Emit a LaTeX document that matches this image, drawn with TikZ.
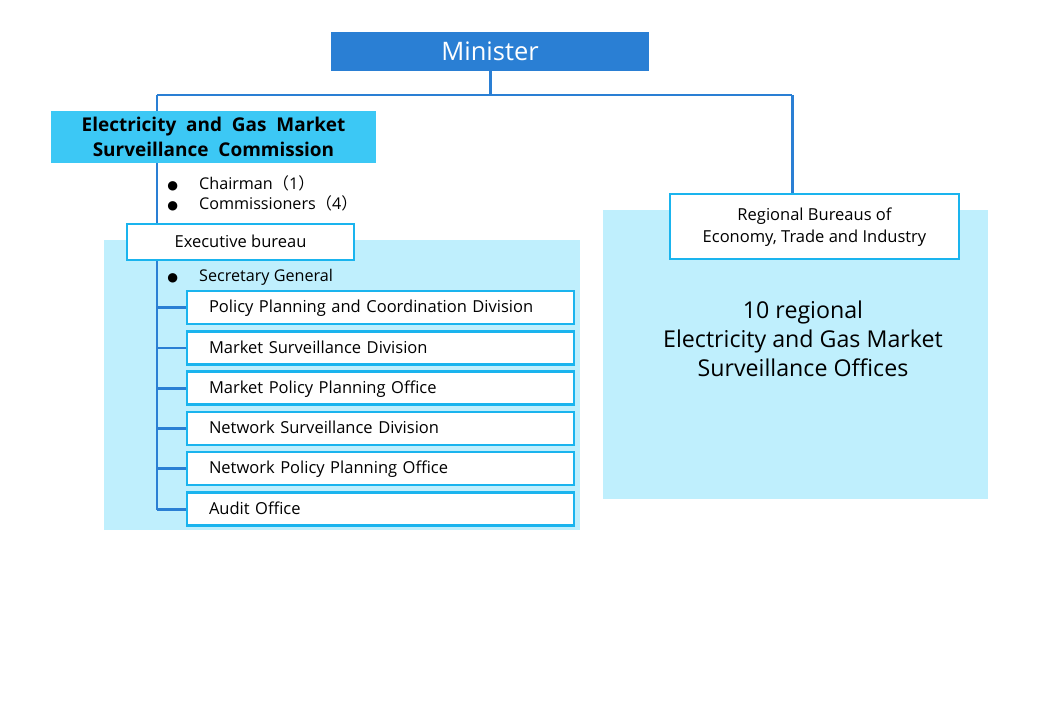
\documentclass[tikz,border=0pt]{standalone}
\usepackage{fontspec}
\setmainfont{Open Sans}
\newfontfamily\cjk{Noto Sans CJK JP}
\newfontfamily\symfont{DejaVu Sans}
\definecolor{lineblue}{HTML}{2A7FD4}
\definecolor{boxcyan}{HTML}{1AB4EE}
\definecolor{headcyan}{HTML}{3CC8F5}
\definecolor{paleblue}{HTML}{BFEFFD}
\newcommand{\bul}{{\symfont\fontsize{7}{8}\selectfont ●}\hspace{12pt}}
\tikzset{
  orgline/.style={draw=lineblue, line width=1.7pt},
  unitbox/.style={draw=boxcyan, line width=1.2pt, fill=white, minimum height=18pt,
    inner sep=0pt, text depth=0.25ex, font=\fontsize{9.4}{11}\selectfont},
  bulletitem/.style={anchor=west, inner sep=0pt, font=\fontsize{9.2}{11}\selectfont},
}
\begin{document}
\begin{tikzpicture}[x=0.02cm, y=-0.02cm]
		\useasboundingbox (0, 0) rectangle (1040, 720);
		%%%%%%%%%%%%%
		\fill [paleblue] (104, 240) rectangle (580, 530);
		\fill [paleblue] (603, 210) rectangle (988, 499);
		%%%%%%%%%%%%%
		\coordinate (top) at (490, 95);
		\coordinate (tl) at (157, 95); \coordinate (tr) at (792, 95);
		\coordinate (spine) at (157, 510);
		\draw [orgline] (490, 71) -- (top);
		\draw [orgline] (tl) -- (tr);
		\draw [orgline] (tl) -- (157, 111);
		\draw [orgline] (tr) -- (792, 194);
		\draw [orgline] (157, 163) -- (spine);
		%%%%%%%%%%%%%
		\node (min) [fill=lineblue, text=white, minimum width=318*0.02cm, minimum height=39*0.02cm,
		  inner sep=0pt, font=\fontsize{14.5}{16}\selectfont] at (490, 51.5) {Minister};
		\node (comm) [fill=headcyan, minimum width=325*0.02cm, minimum height=52*0.02cm, inner sep=0pt,
		  align=center, font=\bfseries\fontsize{10.8}{14}\selectfont] at (213.5, 137)
		  {Electricity\ \ and\ \ Gas\ \ Market\\Surveillance\ \ Commission};
		\node (chair) [bulletitem] at (167, 183) {\bul Chairman{\cjk（}1{\cjk）}};
		\node (coms) [bulletitem] at (167, 203) {\bul Commissioners{\cjk（}4{\cjk）}};
		\node (exec) [unitbox, minimum width=227*0.02cm, minimum height=36*0.02cm] at (240.5, 242) {Executive bureau};
		\node (sec) [bulletitem] at (167, 277) {\bul Secretary General};
		%%%%%%%%%%%%%
		\foreach \name/\y/\txt in {d1/307.5/Policy Planning and Coordination Division,
		    d2/348/Market Surveillance Division, d3/388/Market Policy Planning Office,
		    d4/428.5/Network Surveillance Division, d5/468.5/Network Policy Planning Office,
		    d6/509/Audit Office} {
		  \node (\name) [unitbox, minimum width=387*0.02cm, minimum height=33*0.02cm,
		    text width=343*0.02cm, align=left] at (380.5, \y) {\txt};
		  \draw [orgline] (157, \y) -- (\name.west);
		}
		%%%%%%%%%%%%%
		\node (reg) [unitbox, minimum width=289*0.02cm, minimum height=65*0.02cm, align=center,
		  font=\fontsize{9.4}{12.5}\selectfont] at (814.5, 226.5) {Regional Bureaus of\\Economy, Trade and Industry};
		\node (offices) [align=center, font=\fontsize{13.2}{16.5}\selectfont] at (803, 339)
		  {10 regional\\Electricity and Gas Market\\Surveillance Offices};
\end{tikzpicture}
\end{document}
